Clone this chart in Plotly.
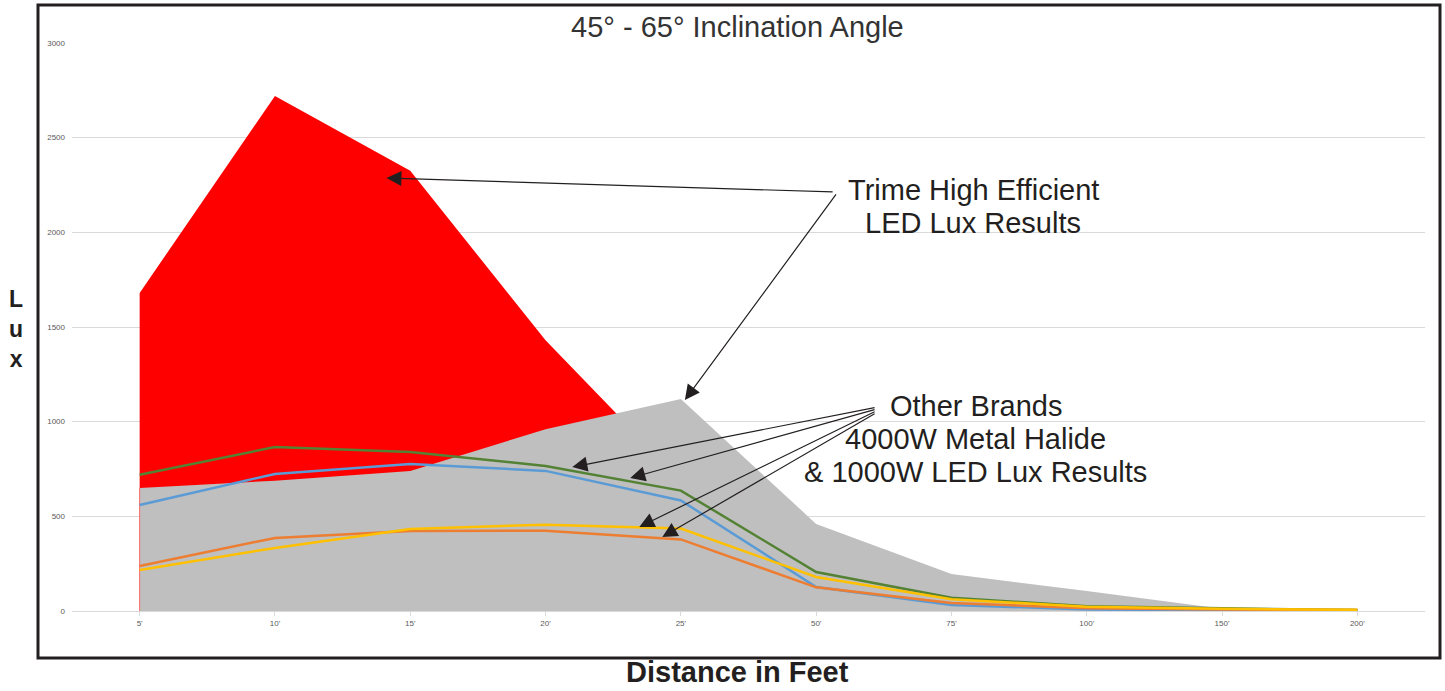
import plotly.graph_objects as go

categories = ["5'", "10'", "15'", "20'", "25'", "50'", "75'", "100'", "150'", "200'"]
trime_red = [1680, 2720, 2325, 1430, 690, 300, 120, 50, 8, 4]
trime_gray = [650, 688, 740, 960, 1120, 460, 195, 105, 12, 5]
green_vals = [720, 866, 840, 766, 636, 206, 70, 25, 14, 5]
blue_vals = [560, 724, 776, 740, 584, 127, 32, 8, 5, 3]
orange_vals = [238, 386, 422, 424, 378, 125, 42, 15, 8, 5]
yellow_vals = [217, 333, 433, 456, 436, 180, 62, 22, 12, 6]
y_ticks = [0, 500, 1000, 1500, 2000, 2500, 3000]

FONT = "Liberation Sans, Arial, sans-serif"

fig = go.Figure()
fig.add_trace(go.Scatter(x=categories, y=trime_red, fill="tozeroy", mode="none",
                         fillcolor="#ff0000", hoverinfo="skip"))
fig.add_trace(go.Scatter(x=categories, y=trime_gray, fill="tozeroy", mode="none",
                         fillcolor="#bfbfbf", hoverinfo="skip"))
fig.add_trace(go.Scatter(x=[categories[0], categories[0]], y=[0, trime_gray[0]], mode="lines",
                         line=dict(color="#ff6060", width=0.8), hoverinfo="skip"))
for vals, col in [(green_vals, "#548235"), (blue_vals, "#5b9bd5"),
                  (orange_vals, "#ed7d31"), (yellow_vals, "#ffc000")]:
    fig.add_trace(go.Scatter(x=categories, y=vals, mode="lines",
                             line=dict(color=col, width=2.5), hoverinfo="skip"))

W, H = 1445, 691
L, R, T, B = 72, 20, 43, 80
pw, ph = W - L - R, H - T - B


def px_to_paper(xp, yp):
    return (xp - L) / pw, (H - B - yp) / ph


def text_ann(xp, yp, text, size, color="#231f20"):
    x, y = px_to_paper(xp, yp)
    return dict(x=x, y=y, xref="paper", yref="paper", showarrow=False, text=text,
                xanchor="center", yanchor="middle", align="center",
                font=dict(family=FONT, size=size, color=color))


annotations = [
    text_ann(737, 27, "45° - 65° Inclination Angle", 29, "#333333"),
    text_ann(16, 329, "<b>L<br>u<br>x</b>", 23),
    text_ann(737, 672, "<b>Distance in Feet</b>", 29),
    text_ann(973, 190, "Trime High Efficient", 29),
    text_ann(973, 223, "LED Lux Results", 29),
    text_ann(976, 406, "Other Brands", 29),
    text_ann(976, 439, "4000W Metal Halide", 29),
    text_ann(976, 472, "&amp; 1000W LED Lux Results", 29),
]

# arrows: head (index, value), tail (index, value)
arrows = [
    ((1.824, 2287), (5.133, 2213)),
    ((4.03, 1114), (5.155, 2208)),
    ((3.198, 760), (5.443, 1076)),
    ((3.626, 702), (5.443, 1066)),
    ((3.693, 444), (5.443, 1056)),
    ((3.863, 391), (5.443, 1046)),
]
for (hx, hy), (sx, sy) in arrows:
    annotations.append(dict(x=hx, y=hy, xref="x", yref="y", ax=sx, ay=sy, axref="x", ayref="y",
                            text="", showarrow=True, arrowhead=2, arrowsize=2.5,
                            arrowwidth=1.2, arrowcolor="#231f20", standoff=0))

fx0, fy0 = px_to_paper(38, 658)
fx1, fy1 = px_to_paper(1440, 5)

fig.update_layout(
    width=W, height=H, autosize=False,
    margin=dict(l=L, r=R, t=T, b=B, pad=0),
    paper_bgcolor="white", plot_bgcolor="white",
    showlegend=False,
    font=dict(family=FONT),
    xaxis=dict(type="category", range=[-0.5, len(categories) - 0.5],
               showgrid=False, showline=True, linecolor="#d9d9d9", linewidth=1,
               ticks="outside", ticklen=4, tickcolor="#d9d9d9",
               tickfont=dict(size=8, color="#595959"), zeroline=False),
    yaxis=dict(range=[0, 3000], tickvals=y_ticks, showgrid=True, gridcolor="#d9d9d9",
               gridwidth=1, zeroline=False, showline=False,
               tickfont=dict(size=8, color="#595959"), ticklabelstandoff=6),
    annotations=annotations,
    shapes=[dict(type="rect", xref="paper", yref="paper", x0=fx0, y0=fy0, x1=fx1, y1=fy1,
                 line=dict(color="#231f20", width=3), fillcolor="rgba(0,0,0,0)", layer="above")],
)

fig.write_html("out.html", config={"displayModeBar": False},
               post_script="document.body.style.margin='0';document.body.style.overflow='hidden';")
